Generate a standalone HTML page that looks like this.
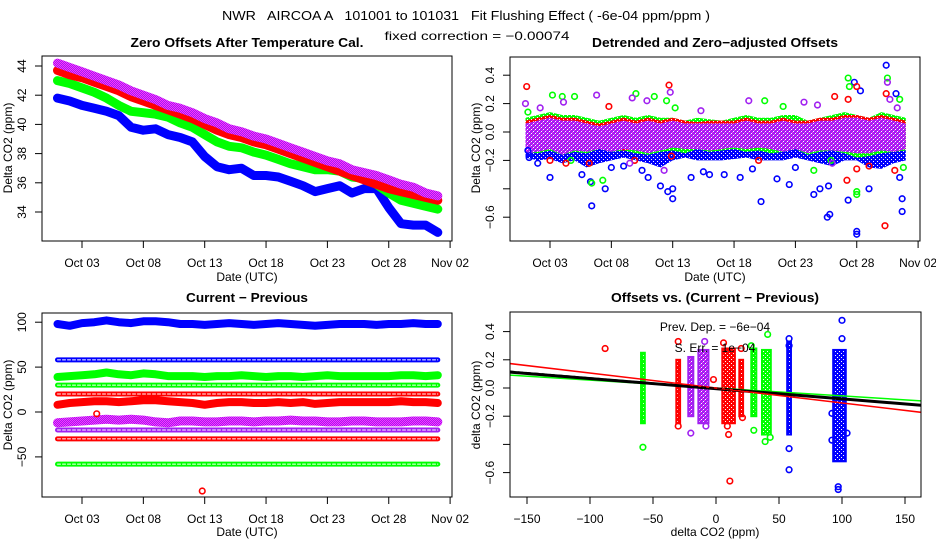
<!DOCTYPE html>
<html><head><meta charset="utf-8"><style>
html,body{margin:0;padding:0;background:#fff}
svg{display:block;font-family:"Liberation Sans",sans-serif}
</style></head><body>
<svg id="chart" width="936" height="540" viewBox="0 0 936 540">
<defs>
<pattern id="purp" width="2" height="2" patternUnits="userSpaceOnUse"><rect width="2" height="2" fill="#a020f0"/><rect width="1" height="1" fill="#ff30ff"/><rect x="1" y="1" width="1" height="1" fill="#ff30ff"/></pattern>
<pattern id="purpT" width="4" height="4" patternUnits="userSpaceOnUse"><rect width="4" height="4" fill="#a020f0"/><rect width="1" height="1" fill="#ff30ff"/><rect x="2" y="2" width="1" height="1" fill="#ff30ff"/><rect x="1" y="3" width="1" height="1" fill="#fff"/><rect x="3" y="1" width="1" height="1" fill="#fff"/></pattern>
<pattern id="redT" width="4" height="4" patternUnits="userSpaceOnUse"><rect width="4" height="4" fill="#ff0000"/><rect x="1" y="1" width="1" height="1" fill="#fff"/><rect x="3" y="3" width="1" height="1" fill="#fff"/></pattern>
<pattern id="greenT" width="4" height="4" patternUnits="userSpaceOnUse"><rect width="4" height="4" fill="#00ff00"/><rect x="1" y="1" width="1" height="1" fill="#fff"/><rect x="3" y="3" width="1" height="1" fill="#fff"/></pattern>
<pattern id="blueT" width="4" height="4" patternUnits="userSpaceOnUse"><rect width="4" height="4" fill="#0000ff"/><rect x="1" y="1" width="1" height="1" fill="#fff"/><rect x="3" y="3" width="1" height="1" fill="#fff"/></pattern>
</defs>
<text x="466" y="20" font-size="13" text-anchor="middle" style="white-space:pre" textLength="488" lengthAdjust="spacingAndGlyphs">NWR   AIRCOA A   101001 to 101031   Fit Flushing Effect ( -6e-04 ppm/ppm )</text>
<text x="477" y="40" font-size="12" text-anchor="middle" textLength="185" lengthAdjust="spacingAndGlyphs">fixed correction = −0.00074</text>
<text x="247" y="47" font-size="13" font-weight="bold" text-anchor="middle" textLength="233" lengthAdjust="spacingAndGlyphs">Zero Offsets After Temperature Cal.</text>
<text x="715" y="47" font-size="13" font-weight="bold" text-anchor="middle" textLength="246" lengthAdjust="spacingAndGlyphs">Detrended and Zero−adjusted Offsets</text>
<text x="247" y="302" font-size="13" font-weight="bold" text-anchor="middle" textLength="122" lengthAdjust="spacingAndGlyphs">Current − Previous</text>
<text x="715" y="302" font-size="13" font-weight="bold" text-anchor="middle" textLength="208" lengthAdjust="spacingAndGlyphs">Offsets vs. (Current − Previous)</text>
</svg>
<script>
// ---- data ----
const days = [1,2,3,4,5,6,7,8,9,10,11,12,13,14,15,16,17,18,19,20,21,22,23,24,25,26,27,28,29,30,31,32];
const tlPurple = [44.2,43.9,43.6,43.3,43.0,42.7,42.3,42.0,41.7,41.3,41.1,40.8,40.4,40.1,39.7,39.5,39.2,39.0,38.7,38.4,38.1,37.8,37.5,37.3,36.9,36.7,36.5,36.2,35.9,35.7,35.3,35.1];
const tlRed = [43.7,43.4,43.2,42.9,42.6,42.3,41.9,41.6,41.3,41.0,40.7,40.4,40.0,39.6,39.3,39.1,38.8,38.6,38.3,38.0,37.7,37.4,37.1,36.8,36.5,36.2,35.9,35.6,35.4,35.2,35.0,34.8];
const tlGreen = [43.0,42.8,42.5,42.2,41.8,41.3,40.9,40.8,40.7,40.5,40.1,39.8,39.3,38.8,38.5,38.4,38.1,37.9,37.6,37.3,37.1,36.9,36.9,36.8,36.4,36.3,35.9,35.3,34.8,34.6,34.4,34.2];
const tlBlue = [41.8,41.6,41.3,41.1,40.9,40.6,39.8,39.6,39.7,39.3,39.1,38.8,37.8,37.1,36.9,37.0,36.5,36.5,36.4,36.1,35.8,35.4,35.6,35.8,35.3,35.6,35.6,34.3,33.2,33.1,33.1,32.6];

const blBlue = [98,96,99,100,102,100,99,101,101,100,98,98,97,98,99,98,97,98,99,98,97,96,97,98,98,98,97,98,98,99,98,98];
const blGreen = [39,40,41,42,44,42,41,43,42,40,40,40,39,40,40,41,40,39,40,40,39,40,41,40,40,40,40,40,41,41,40,41];
const blRed = [8,10,11,12,12,11,12,13,13,12,11,10,8,10,11,11,10,10,11,10,11,9,10,11,11,11,11,11,12,11,11,10];
const blPurple = [-12,-11,-10,-9,-8,-9,-8,-9,-11,-12,-10,-10,-11,-11,-10,-10,-11,-10,-10,-9,-10,-10,-11,-11,-10,-10,-11,-11,-11,-10,-10,-11];
const blLevels = [58,30,20,-20,-30,-58];
const blLevelColors = ['#0000ff','#00ff00','#ff0000','#a020f0','#ff0000','#00ff00'];
const blOutDay = [4.2,12.8];
const blOutVal = [-2,-88];

const trBlueLo = [-0.18,-0.2,-0.19,-0.22,-0.2,-0.25,-0.22,-0.2,-0.18,-0.2,-0.22,-0.25,-0.2,-0.18,-0.2,-0.2,-0.2,-0.19,-0.18,-0.2,-0.2,-0.2,-0.18,-0.2,-0.22,-0.24,-0.2,-0.2,-0.25,-0.26,-0.22,-0.2];
const trBlueHi = [0.0,0.02,0.0,0.03,0.05,0.02,0.0,0.02,0.03,0.0,0.02,0.03,0.05,0.0,0.02,0.0,0.02,0.03,0.0,0.02,0.0,0.02,0.05,0.03,0.02,0.05,0.03,0.0,0.02,0.05,0.03,0.02];
const trGreenLo = [-0.14,-0.15,-0.13,-0.16,-0.14,-0.15,-0.12,-0.14,-0.13,-0.15,-0.16,-0.14,-0.13,-0.15,-0.12,-0.14,-0.13,-0.12,-0.14,-0.13,-0.15,-0.14,-0.12,-0.16,-0.14,-0.13,-0.15,-0.18,-0.17,-0.15,-0.14,-0.13];
const trGreenHi = [0.1,0.12,0.14,0.12,0.12,0.1,0.08,0.1,0.12,0.1,0.12,0.1,0.1,0.08,0.1,0.09,0.08,0.1,0.12,0.1,0.1,0.12,0.12,0.08,0.1,0.12,0.14,0.12,0.1,0.14,0.12,0.1];
const trRedLo = [-0.12,-0.14,-0.12,-0.15,-0.12,-0.14,-0.1,-0.12,-0.13,-0.12,-0.14,-0.12,-0.1,-0.12,-0.11,-0.13,-0.12,-0.1,-0.12,-0.11,-0.12,-0.13,-0.1,-0.14,-0.12,-0.12,-0.13,-0.14,-0.15,-0.12,-0.14,-0.12];
const trRedHi = [0.08,0.1,0.12,0.1,0.1,0.08,0.06,0.08,0.1,0.08,0.1,0.08,0.1,0.08,0.07,0.08,0.08,0.08,0.1,0.08,0.08,0.1,0.08,0.08,0.1,0.1,0.12,0.12,0.1,0.12,0.1,0.08];
const trPurpLo = [-0.15,-0.14,-0.12,-0.16,-0.13,-0.14,-0.12,-0.14,-0.12,-0.13,-0.15,-0.13,-0.11,-0.12,-0.12,-0.13,-0.12,-0.11,-0.12,-0.11,-0.12,-0.14,-0.12,-0.15,-0.13,-0.13,-0.14,-0.15,-0.15,-0.13,-0.14,-0.12];
const trPurpHi = [0.06,0.08,0.1,0.08,0.08,0.06,0.04,0.06,0.08,0.06,0.08,0.06,0.08,0.06,0.06,0.06,0.06,0.06,0.08,0.06,0.06,0.08,0.06,0.06,0.08,0.08,0.1,0.1,0.08,0.1,0.08,0.06];
const trOutDay = {
 blue:[3,5.6,6.4,6.3,7.5,8,11,12,12.6,13,13,14.5,16,18.5,20.2,21.5,22.5,24.5,25,25.6,25.8,25.7,27.3,27.8,28,28,28.3,29,30.4,31.2,31.7,31.7,31.5,1.2,1.3,2,9,10.5,15.5,17.2,19.5,23],
 green:[1.2,3.2,4,5,4.7,6.4,7.3,10,11.5,12.5,13.2,20.5,22,24.5,27.3,27.4,28,28,30.5,31.5,31.8,25.9],
 red:[1.1,3,4.3,6.2,7.8,9.9,12.7,12.9,20,27.2,27.3,28,28,30.4,30.3,31.1,29,26.2],
 purple:[1,2.2,4.1,6.8,9.7,12.8,15.3,19.2,23.7,24.8,30.5,30.7,10.9,12.3,9.5,26,31.3]};
const trOutVal = {
 blue:[-0.32,-0.3,-0.52,-0.35,-0.4,-0.25,-0.32,-0.38,-0.42,-0.47,-0.4,-0.32,-0.3,-0.32,-0.49,-0.33,-0.37,-0.44,-0.4,-0.6,-0.58,-0.38,-0.48,0.35,-0.7,-0.72,0.29,-0.4,0.47,0.27,-0.47,-0.56,-0.32,-0.13,-0.18,-0.22,-0.24,-0.27,-0.28,-0.3,-0.26,-0.25],
 green:[0.14,0.26,0.25,0.25,-0.2,-0.36,-0.34,0.27,0.25,0.22,0.17,0.22,0.18,-0.27,0.38,0.32,-0.42,-0.44,0.38,0.23,-0.25,-0.2],
 red:[0.32,-0.2,-0.22,-0.22,0.18,-0.2,0.33,-0.17,-0.2,-0.34,0.23,0.32,-0.26,0.27,-0.66,-0.27,-0.24,0.25],
 purple:[0.2,0.17,0.21,0.26,0.24,0.28,0.15,0.22,0.21,0.19,0.35,0.23,0.22,-0.27,-0.22,-0.22,0.17]};

const stripX = [-58,-30,-20,-10,10,20,30,40,58,98];
const stripHalf = [1.5,1.5,2,4,5,1.5,2,3.5,1.5,5];
const stripLo = [-0.25,-0.25,-0.2,-0.25,-0.25,-0.2,-0.2,-0.33,-0.33,-0.52];
const stripHi = [0.25,0.2,0.22,0.27,0.28,0.2,0.28,0.27,0.33,0.27];
const stripColor = ['url(#greenT)','url(#redT)','url(#purpT)','url(#purpT)','url(#redT)','url(#redT)','url(#greenT)','url(#greenT)','url(#blueT)','url(#blueT)'];
const stripStroke = ['#00ff00','#ff0000','#a020f0','#a020f0','#ff0000','#ff0000','#00ff00','#00ff00','#0000ff','#0000ff'];
const brOutX = [-88,-58,-30,-30,-20,-9,-8,-2,6,9,10,11,20,21,30,28,41,39,43,58,58,58,58,92,92,100,100,97,97,104];
const brOutY = [0.28,-0.42,0.33,-0.27,-0.32,0.33,-0.27,0.06,0.32,-0.27,-0.33,-0.66,0.28,-0.21,-0.3,0.3,0.38,-0.38,-0.35,0.35,0.3,-0.43,-0.58,-0.18,-0.37,0.48,0.35,-0.7,-0.72,-0.32];
const brOutC = ['#ff0000','#00ff00','#ff0000','#ff0000','#a020f0','#a020f0','#a020f0','#ff0000','#ff0000','#ff0000','#ff0000','#ff0000','#ff0000','#ff0000','#00ff00','#00ff00','#00ff00','#00ff00','#00ff00','#0000ff','#0000ff','#0000ff','#0000ff','#0000ff','#0000ff','#0000ff','#0000ff','#0000ff','#0000ff','#0000ff'];
const fitSlope = [-5.6e-4,-7.2e-4,-1.06e-3];
const fitIntercept = [0.0,-0.005,0.0];
const fitColor = ['#00ff00','#000000','#ff0000'];

const dateTickDays = [3,8,13,18,23,28,33];
const dateTickLabels = ['Oct 03','Oct 08','Oct 13','Oct 18','Oct 23','Oct 28','Nov 02'];
const tlTicks = [34,36,38,40,42,44];
const trTicks = [-0.6,-0.4,-0.2,0.0,0.2,0.4];
const trTickLabels = ['−0.6','','−0.2','0.0','0.2','0.4'];
const blTicks = [-50,0,50,100];
const blTickLabels = ['−50','0','50','100'];
const brXTicks = [-150,-100,-50,0,50,100,150];
const brXTickLabels = ['−150','−100','−50','0','50','100','150'];

// ---- scales ----
const xL = d => 82 + (d - 3) * 12.27;
const xR = d => 550 + (d - 3) * 12.27;
const yTL = v => 66 + (44 - v) * 14.6;
const yTR = v => 132 - v * 142;
const yBL = v => 412 - v * 0.898;
const xBR = v => 716 + v * 1.26;
const yBR = v => 388 - v * 141;

const svg = document.getElementById('chart');
const NS = 'http://www.w3.org/2000/svg';
function mk(tag, attrs, parent) {
  const e = document.createElementNS(NS, tag);
  for (const k in attrs) e.setAttribute(k, attrs[k]);
  (parent || svg).appendChild(e);
  return e;
}
function clip(id, x, y, w, h) {
  const cp = mk('clipPath', {id: id}, svg.querySelector('defs'));
  mk('rect', {x: x, y: y, width: w, height: h}, cp);
}
clip('c1', 42, 56, 410, 185); clip('c2', 510, 57, 410, 184); clip('c3', 42, 313, 410, 184); clip('c4', 510, 312, 411, 185);

function frame(x, y, w, h, name) {
  const r = mk('rect', {x: x, y: y, width: w, height: h, fill: 'none', stroke: '#000', 'stroke-width': 1});
  
  
}
function xAxis(ticks, labels, fx, yb, ly, name) {
  const g = mk('g', {});
  
  
  mk('line', {x1: fx(ticks[0]), x2: fx(ticks[ticks.length - 1]), y1: yb, y2: yb, stroke: '#000'}, g);
  ticks.forEach((t, i) => {
    mk('line', {x1: fx(t), x2: fx(t), y1: yb, y2: yb + 7, stroke: '#000'}, g);
    const tx = mk('text', {x: fx(t), y: ly, 'font-size': 12, 'text-anchor': 'middle'}, g);
    tx.textContent = labels[i];
  });
}
function yAxis(ticks, labels, fy, xb, lx, name) {
  const g = mk('g', {});
  
  
  mk('line', {x1: xb, x2: xb, y1: fy(ticks[0]), y2: fy(ticks[ticks.length - 1]), stroke: '#000'}, g);
  ticks.forEach((t, i) => {
    mk('line', {x1: xb, x2: xb - 7, y1: fy(t), y2: fy(t), stroke: '#000'}, g);
    const tx = mk('text', {x: lx, y: fy(t), 'font-size': 12, 'text-anchor': 'middle', transform: 'rotate(-90 ' + lx + ' ' + fy(t) + ')'}, g);
    tx.textContent = labels[i];
  });
}
function label(txt, x, y, rot, name) {
  const t = mk('text', {x: x, y: y, 'font-size': 12, 'text-anchor': 'middle'});
  if (rot) t.setAttribute('transform', 'rotate(-90 ' + x + ' ' + y + ')');
  t.textContent = txt;
  
  
}
function line(xs, ys, fx, fy, color, w, parent, name) {
  const pts = xs.map((x, i) => fx(x).toFixed(1) + ',' + fy(ys[i]).toFixed(1)).join(' ');
  const p = mk('polyline', {points: pts, fill: 'none', stroke: color, 'stroke-width': w, 'stroke-linejoin': 'round', 'stroke-linecap': 'round'}, parent);
  
  
  return p;
}
function circle(cx, cy, color, parent, name) {
  const c = mk('circle', {cx: cx, cy: cy, r: 2.8, fill: 'none', stroke: color, 'stroke-width': 1.6}, parent);
  
  
}
function band(lo, hi, fx, fy, color, parent, name) {
  const top = days.map((d, i) => fx(d).toFixed(1) + ',' + fy(hi[i]).toFixed(1));
  const bot = days.map((d, i) => fx(d).toFixed(1) + ',' + fy(lo[i]).toFixed(1)).reverse();
  const p = mk('polygon', {points: top.concat(bot).join(' '), fill: color, stroke: 'none'}, parent);
  
  
}

// ---- panel 1 ----
const g1 = mk('g', {'clip-path': 'url(#c1)'});


line(days, tlBlue, xL, yTL, '#0000ff', 9, g1, 'series-blue-line');
line(days, tlGreen, xL, yTL, '#00ff00', 9, g1, 'series-green-line');
line(days, tlRed, xL, yTL, '#ff0000', 9, g1, 'series-red-line');
line(days, tlPurple, xL, yTL, 'url(#purp)', 9, g1, 'series-purple-line');
frame(42, 56, 410, 185, 'zero-offsets-plot-frame');
xAxis(dateTickDays, dateTickLabels, xL, 241, 267, 'zero-offsets-x-axis');
yAxis(tlTicks, tlTicks.map(String), yTL, 42, 26, 'zero-offsets-y-axis');
label('Date (UTC)', 247, 281, false, 'zero-offsets-x-title');
label('Delta CO2 (ppm)', 12, 148, true, 'zero-offsets-y-title');

// ---- panel 2 ----
const g2 = mk('g', {'clip-path': 'url(#c2)'});


band(trBlueLo, trBlueHi, xR, yTR, 'url(#blueT)', g2, 'detrended-blue-band');
band(trGreenLo, trGreenHi, xR, yTR, 'url(#greenT)', g2, 'detrended-green-band');
band(trRedLo, trRedHi, xR, yTR, 'url(#redT)', g2, 'detrended-red-band');
band(trPurpLo, trPurpHi, xR, yTR, 'url(#purpT)', g2, 'detrended-purple-band');
const colMap = {blue: '#0000ff', green: '#00ff00', red: '#ff0000', purple: '#a020f0'};
for (const k in trOutDay) {
  trOutDay[k].forEach((d, i) => circle(xR(d), yTR(trOutVal[k][i]), colMap[k], g2, 'detrended-point-' + k));
}
frame(510, 57, 410, 184, 'detrended-plot-frame');
xAxis(dateTickDays, dateTickLabels, xR, 241, 267, 'detrended-x-axis');
yAxis(trTicks, trTickLabels, yTR, 510, 494, 'detrended-y-axis');
label('Date (UTC)', 715, 281, false, 'detrended-x-title');
label('Delta CO2 (ppm)', 480, 148, true, 'detrended-y-title');

// ---- panel 3 ----
const g3 = mk('g', {'clip-path': 'url(#c3)'});


blLevels.forEach((lv, i) => {
  const lvVals = days.map(() => lv);
  line(days, lvVals, xL, yBL, blLevelColors[i], 5, g3, 'level-row-' + i);
  const inner = line(days, lvVals, xL, yBL, '#ffffff', 1, g3, 'level-row-inner-' + i);
  inner.setAttribute('stroke-dasharray', '3,2');
});
line(days, blBlue, xL, yBL, '#0000ff', 8, g3, 'blue-band-row');
line(days, blGreen, xL, yBL, '#00ff00', 8, g3, 'green-band-row');
line(days, blRed, xL, yBL, '#ff0000', 8, g3, 'red-band-row');
line(days, blPurple, xL, yBL, 'url(#purp)', 9, g3, 'purple-band-row');
blOutDay.forEach((d, i) => circle(xL(d), yBL(blOutVal[i]), '#ff0000', g3, 'current-previous-outlier'));
frame(42, 313, 410, 184, 'current-previous-plot-frame');
xAxis(dateTickDays, dateTickLabels, xL, 497, 523, 'current-previous-x-axis');
yAxis(blTicks, blTickLabels, yBL, 42, 26, 'current-previous-y-axis');
label('Date (UTC)', 247, 536, false, 'current-previous-x-title');
label('Delta CO2 (ppm)', 12, 405, true, 'current-previous-y-title');

// ---- panel 4 ----
const g4 = mk('g', {'clip-path': 'url(#c4)'});


stripX.forEach((sx, i) => {
  const r = mk('rect', {x: xBR(sx - stripHalf[i]), y: yBR(stripHi[i]), width: xBR(sx + stripHalf[i]) - xBR(sx - stripHalf[i]), height: yBR(stripLo[i]) - yBR(stripHi[i]), fill: stripColor[i], stroke: stripStroke[i], 'stroke-width': 2}, g4);
  
  
});
brOutX.forEach((x, i) => circle(xBR(x), yBR(brOutY[i]), brOutC[i], g4, 'offset-outlier'));
fitSlope.forEach((s, i) => {
  const l = mk('line', {x1: xBR(-170), y1: yBR(fitIntercept[i] + s * -170), x2: xBR(170), y2: yBR(fitIntercept[i] + s * 170), stroke: fitColor[i], 'stroke-width': i === 1 ? 3 : 1.5}, g4);
  
  
});
const dl = mk('line', {x1: xBR(-170), y1: yBR(0.125), x2: xBR(170), y2: yBR(-0.125), stroke: '#000', 'stroke-width': 1, 'stroke-dasharray': '5,3'}, g4);


frame(510, 312, 411, 185, 'offsets-vs-plot-frame');
xAxis(brXTicks, brXTickLabels, xBR, 497, 523, 'offsets-vs-x-axis');
yAxis(trTicks, trTickLabels, yBR, 510, 494, 'offsets-vs-y-axis');
label('delta CO2 (ppm)', 715, 536, false, 'offsets-vs-x-title');
label('delta CO2 (ppm)', 480, 405, true, 'offsets-vs-y-title');
const t1 = mk('text', {x: 715, y: 331, 'font-size': 12, 'text-anchor': 'middle'});
t1.textContent = 'Prev. Dep. =  −6e−04';


const t2 = mk('text', {x: 715, y: 352, 'font-size': 12, 'text-anchor': 'middle'});
t2.textContent = 'S. Err. =  1e−04';


</script>
</body></html>
